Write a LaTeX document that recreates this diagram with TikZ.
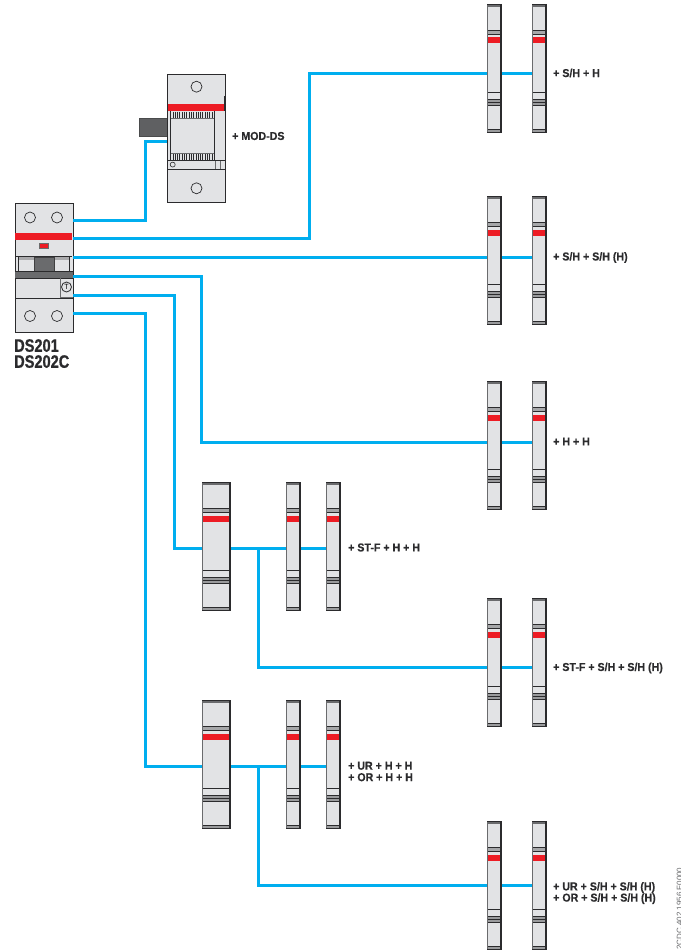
\documentclass[tikz,border=0pt]{standalone}
\usepackage{fontspec}
\setmainfont{Liberation Sans}
\newfontfamily\cond[FakeStretch=0.925,BoldFeatures={FakeBold=0.5}]{Liberation Sans}
\newfontfamily\condb[FakeStretch=0.81,BoldFeatures={FakeBold=0.8}]{Liberation Sans}
\definecolor{wire}{HTML}{00AEEF}
\definecolor{brk}{HTML}{ED1C24}
\definecolor{body}{HTML}{E2E3E5}
\definecolor{ink}{HTML}{2B2B2D}
\definecolor{band}{HTML}{6A6B6D}
\tikzset{
  wirel/.style={draw=wire,line width=2.8pt},
  modbox/.style={draw=ink,fill=body,line width=1pt,inner sep=0pt,minimum height=128pt,anchor=north west},
  lbl/.style={font=\cond\bfseries\fontsize{11.5}{10.5}\selectfont,text=ink,anchor=west,inner sep=0pt,align=left},
  fineline/.style={draw=ink,line width=0.8pt},
  hole/.style={draw=ink,line width=0.7pt,fill=body,circle,inner sep=0pt,minimum size=11pt},
}
% #1 name, #2 left x, #3 top y, #4 width
\newcommand{\moduleat}[4]{%
  \node[modbox,minimum width=#4pt] (#1) at (#2,#3) {};
  \begin{scope}[shift={(#1.north west)}]
    \fill[band] (0,0.5) rectangle (#4,3);
    \fill[band!60!body] (0,125) rectangle (#4,127.5);
    \fill[band!50!body] (0,27) rectangle (#4,30.5);
    \fill[band!60!body] (0,95.5) rectangle (#4,101);
    \fill[brk] (0.8,33.5) rectangle (#4-1.2,39.5);
    \foreach \yy in {26.5,30.5,88,95.5,98,101,125}{\draw[ink,line width=0.7pt] (0,\yy) -- (#4,\yy);}
    \draw[band,line width=1pt] (0,0) -- (0,128);
    \draw[ink,line width=1.5pt] (#4,0) -- (#4,128);
    \draw[ink,line width=0.9pt] (0,0) -- (#4,0) (0,128) -- (#4,128);
  \end{scope}%
}
\begin{document}
\begin{tikzpicture}[x=1pt,y=-1pt]
\useasboundingbox (0,0) rectangle (680,950);

\coordinate (p1) at (73,220.5);
\coordinate (p2) at (73,238.5);
\coordinate (p3) at (73,257.5);
\coordinate (p4) at (73,276.5);
\coordinate (p5) at (73,295.5);
\coordinate (p6) at (73,313.5);

% ---------- modules
\moduleat{a1}{487}{4}{14}   \moduleat{a2}{532}{4}{14}
\moduleat{b1}{487}{196}{14} \moduleat{b2}{532}{196}{14}
\moduleat{c1}{487}{381}{14} \moduleat{c2}{532}{381}{14}
\moduleat{d0}{202}{482}{28} \moduleat{d1}{286}{482}{14} \moduleat{d2}{326}{482}{14}
\moduleat{e1}{487}{598}{14} \moduleat{e2}{532}{598}{14}
\moduleat{f0}{202}{700}{28} \moduleat{f1}{286}{700}{14} \moduleat{f2}{326}{700}{14}
\moduleat{g1}{487}{821}{14} \moduleat{g2}{532}{821}{14}

% ---------- DS201 breaker
\node[draw=ink,fill=body,line width=1.1pt,inner sep=0pt,minimum width=58pt,minimum height=129pt,anchor=north west] (ds) at (14.5,203) {};
\node[hole] (ds1) at (30,217.5) {};
\node[hole] (ds2) at (57,217.5) {};
\node[hole] (ds3) at (30,316) {};
\node[hole] (ds4) at (57,316) {};
\fill[brk] (15.2,233) rectangle (72,240);
\node[draw=ink!70,fill=brk,line width=0.8pt,minimum width=8.5pt,minimum height=5pt,inner sep=0pt] (dsled) at (43.8,245.8) {};
\draw[fineline] (15,256) -- (72,256);
\fill[body!75!black] (18,257) rectangle (70,260);
\fill[body] (18,259.5) rectangle (69,271);
\draw[fineline] (18,256) -- (18,271) (69.5,256) -- (69.5,271);
\node[fill=band,draw=band!60!black,line width=0.5pt,minimum width=20pt,minimum height=14pt,inner sep=0pt,anchor=north west] (dsh) at (33.5,257) {};
\fill[band] (15,271) rectangle (72.5,278);
\draw[ink,line width=0.7pt] (15,271) -- (72.5,271) (15,278) -- (72.5,278);
\draw[fineline] (15,298) -- (72.5,298);
\draw[band,line width=0.7pt] (60,278) -- (60,297) -- (72.5,297);
\node[draw=ink,line width=0.8pt,circle,inner sep=0pt,minimum size=10pt,font=\cond\fontsize{7.5}{7.5}\selectfont] (dst) at (66.5,287) {T};

% ---------- MOD-DS auxiliary
\node[fill=band!90!black,draw=band!70!black,line width=0.5pt,inner sep=0pt,minimum width=28pt,minimum height=18pt,anchor=north west] (lever) at (139.3,117.7) {};
\node[draw=ink,fill=body,line width=1.1pt,inner sep=0pt,minimum width=57.5pt,minimum height=128pt,anchor=north west] (mod) at (167.3,74.3) {};
\node[hole] (m1) at (196.5,86.7) {};
\node[hole] (m2) at (196.5,188.3) {};
\fill[brk] (168,104.3) rectangle (224.3,111);
\draw[ink,line width=1.5pt] (224.6,96) -- (224.6,111);
\draw[fineline] (170.7,111) -- (170.7,160) (214,111) -- (214,160);
\draw[band,line width=0.7pt] (170.7,118.5) -- (214,118.5) (170.7,153) -- (214,153);
\foreach \xx in {173,175.3,...,213}{%
  \draw[ink,line width=0.9pt] (\xx,111.5) -- (\xx,118);
  \draw[ink,line width=0.9pt] (\xx,153.5) -- (\xx,160);
}
\draw[fineline] (168,160.5) -- (224.5,160.5) (168,169) -- (224.5,169);
\draw[band,line width=0.7pt] (215.7,160.5) -- (215.7,169) (220.7,160.5) -- (220.7,169);
\node[draw=ink,line width=0.6pt,circle,inner sep=0pt,minimum size=5pt] (m3) at (172.7,164.6) {};

% ---------- connectors
\coordinate (j1) at (258.5,548.5);
\coordinate (j2) at (258.5,766.5);
\draw[wirel] (p1) -- (145.5,220.5) -- (145.5,141.5) -- (mod.west |- 0,141.5);
\draw[wirel] (p2) -- (309.5,238.5) -- (309.5,73.5) -- (a1.west |- 0,73.5);
\draw[wirel] (a1.east |- 0,73.5) -- (a2.west |- 0,73.5);
\draw[wirel] (p3) -- (b1.west |- 0,257.5);
\draw[wirel] (b1.east |- 0,257.5) -- (b2.west |- 0,257.5);
\draw[wirel] (p4) -- (201.5,276.5) -- (201.5,442.5) -- (c1.west |- 0,442.5);
\draw[wirel] (c1.east |- 0,442.5) -- (c2.west |- 0,442.5);
\draw[wirel] (p5) -- (174.5,295.5) -- (174.5,548.5) -- (d0.west |- j1);
\draw[wirel] (d0.east |- j1) -- (d1.west |- j1);
\draw[wirel] (d1.east |- j1) -- (d2.west |- j1);
\draw[wirel] (j1) -- (258.5,667.5) -- (e1.west |- 0,667.5);
\draw[wirel] (e1.east |- 0,667.5) -- (e2.west |- 0,667.5);
\draw[wirel] (p6) -- (145.5,313.5) -- (145.5,766.5) -- (f0.west |- j2);
\draw[wirel] (f0.east |- j2) -- (f1.west |- j2);
\draw[wirel] (f1.east |- j2) -- (f2.west |- j2);
\draw[wirel] (j2) -- (258.5,885.5) -- (g1.west |- 0,885.5);
\draw[wirel] (g1.east |- 0,885.5) -- (g2.west |- 0,885.5);

% ---------- labels
\node[lbl] (t0) at (232,136) {+ MOD-DS};
\node[lbl] (t1) at (553,73) {+ S/H + H};
\node[lbl] (t2) at (553,257.5) {+ S/H + S/H (H)};
\node[lbl] (t3) at (553,441.5) {+ H + H};
\node[lbl] (t4) at (348,547.5) {+ ST-F + H + H};
\node[lbl] (t5) at (553,668) {+ ST-F + S/H + S/H (H)};
\node[lbl] (t6) at (348,771.5) {+ UR + H + H\\[1pt]+ OR + H + H};
\node[lbl] (t7) at (553,893) {+ UR + S/H + S/H (H)\\[-0.5pt]+ OR + S/H + S/H (H)};
\node[font=\condb\bfseries\fontsize{18}{16}\selectfont,text=ink,anchor=north west,inner sep=0pt,align=left] (dsl) at (14,339) {DS201\\DS202C};
\node[font=\fontsize{8}{8}\selectfont,text=band,rotate=90,anchor=west,inner sep=0pt] (code) at (679.5,950) {2CDC 402 1956 F0000};
\end{tikzpicture}
\end{document}
